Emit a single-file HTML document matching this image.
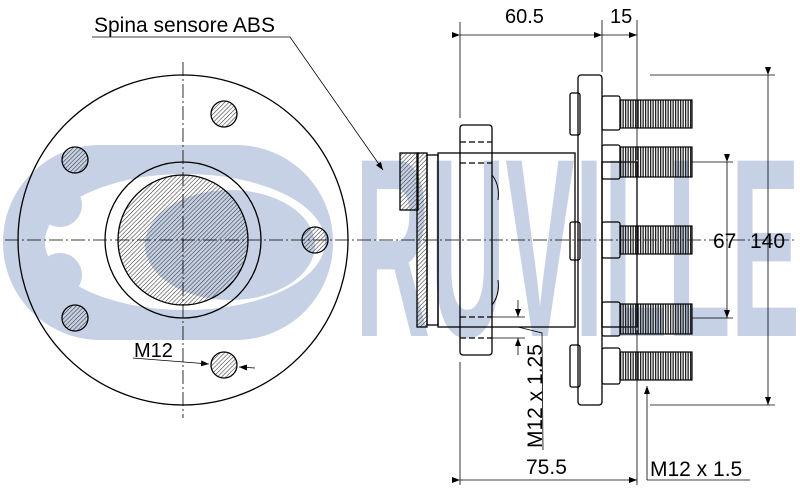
<!DOCTYPE html>
<html><head><meta charset="utf-8"><style>
html,body{margin:0;padding:0;background:#fff;}
svg{display:block;}
text{font-family:"Liberation Sans",sans-serif;}
</style></head><body>
<svg width="800" height="496" viewBox="0 0 800 496" xmlns="http://www.w3.org/2000/svg">
<defs>
<pattern id="h" width="3" height="3" patternUnits="userSpaceOnUse" patternTransform="rotate(45)">
<line x1="0" y1="0" x2="0" y2="3" stroke="#333" stroke-width="1.1"/>
</pattern>
<pattern id="t" width="2.5" height="4" patternUnits="userSpaceOnUse">
<line x1="0.6" y1="0" x2="0.6" y2="4" stroke="#222" stroke-width="1.4"/>
</pattern>
<marker id="a" markerWidth="8" markerHeight="6" refX="8" refY="3" orient="auto" markerUnits="userSpaceOnUse"><path d="M0,0 L8,3 L0,6 z" fill="#000"/></marker>
</defs>
<!-- watermark -->
<g fill="#c6d1e5">
<rect x="3" y="145" width="330" height="195" rx="97"/>
</g>
<ellipse cx="185" cy="242" rx="140" ry="68" fill="#fff"/>
<g fill="#c6d1e5">
<circle cx="100" cy="160" r="12"/>
<circle cx="60" cy="205" r="22"/><circle cx="60" cy="275" r="22"/>
<circle cx="100" cy="325" r="12"/>
<ellipse cx="230" cy="245" rx="85" ry="55"/>
</g>
<text x="355" y="336" font-size="255" font-weight="bold" fill="#c6d1e5" textLength="445" lengthAdjust="spacingAndGlyphs">RUVILLE</text>

<!-- left view -->
<g stroke="#000" fill="none" stroke-width="1.3">
<circle cx="183" cy="240" r="165"/>
<circle cx="183" cy="240" r="78"/>
<circle cx="183" cy="240" r="65" fill="url(#h)"/>
<g fill="url(#h)">
<circle cx="315" cy="240" r="13"/>
<circle cx="224" cy="114" r="13"/>
<circle cx="75" cy="160" r="13"/>
<circle cx="75" cy="318" r="13"/>
<circle cx="224" cy="365" r="13"/>
</g>
</g>
<g stroke="#000" stroke-width="0.8" stroke-dasharray="14,3,2,3">
<line x1="5" y1="240" x2="795" y2="240"/>
<line x1="183" y1="62" x2="183" y2="418"/>
</g>
<line x1="133" y1="358" x2="209" y2="364" stroke="#000" stroke-width="0.8" marker-end="url(#a)"/>
<line x1="255" y1="368" x2="239" y2="367" stroke="#000" stroke-width="0.8" marker-end="url(#a)"/>
<text x="134" y="357" font-size="20">M12</text>

<text x="94" y="32" font-size="21">Spina sensore ABS</text>
<polyline points="92,37 290,37 383,170" fill="none" stroke="#000" stroke-width="0.8" marker-end="url(#a)"/>

<!-- side view -->
<g stroke="#000" stroke-width="1.3" fill="none">
<rect x="400" y="153" width="18" height="57" fill="url(#h)"/>
<rect x="417" y="153" width="10" height="174" fill="url(#h)"/>
<rect x="427" y="155" width="11" height="170"/>
<rect x="438" y="153" width="137" height="174"/>
<rect x="460" y="125" width="32" height="230" rx="3"/>
<rect x="602" y="162" width="35" height="165"/>
<rect x="570" y="93" width="10" height="42" rx="2"/>
<rect x="570" y="222" width="10" height="38" rx="2"/>
<rect x="570" y="345" width="10" height="42" rx="2"/>
<rect x="578" y="75" width="24" height="330" rx="3"/>
</g>
<g stroke="#000" stroke-width="1.3" stroke-dasharray="6,3">
<line x1="460" y1="142" x2="492" y2="142"/><line x1="460" y1="163" x2="492" y2="163"/>
<line x1="460" y1="317" x2="492" y2="317"/><line x1="460" y1="338" x2="492" y2="338"/>
</g>
<path d="M492,175 Q500,185 498,200 M492,305 Q500,295 498,280" stroke="#000" fill="none" stroke-width="1"/>
<!-- studs -->
<g stroke="#000" stroke-width="1.2" fill="none">
<rect x="602" y="96" width="18" height="34" rx="2"/>
<rect x="620" y="100" width="72" height="28" fill="url(#t)"/>
<rect x="602" y="145" width="18" height="34" rx="2"/>
<rect x="620" y="147" width="72" height="30" fill="url(#t)"/>
<rect x="602" y="222" width="18" height="36" rx="2"/>
<rect x="620" y="226" width="72" height="28" fill="url(#t)"/>
<rect x="602" y="302" width="18" height="34" rx="2"/>
<rect x="620" y="304" width="72" height="30" fill="url(#t)"/>
<rect x="602" y="348" width="18" height="36" rx="2"/>
<rect x="620" y="352" width="72" height="28" fill="url(#t)"/>
</g>
<!-- dimensions -->
<g stroke="#000" stroke-width="0.8" fill="none">
<line x1="460" y1="22" x2="460" y2="118"/><line x1="460" y1="362" x2="460" y2="485"/>
<line x1="602" y1="20" x2="602" y2="72"/>
<line x1="637" y1="20" x2="637" y2="160"/><line x1="637" y1="330" x2="637" y2="485"/>
<line x1="460" y1="35" x2="602" y2="35" marker-start="url(#a)" marker-end="url(#a)"/>
<line x1="602" y1="35" x2="637" y2="35" marker-end="url(#a)"/>
<line x1="460" y1="480" x2="637" y2="480" marker-start="url(#a)" marker-end="url(#a)"/>
<line x1="650" y1="75" x2="775" y2="75"/><line x1="650" y1="405" x2="775" y2="405"/>
<line x1="768" y1="75" x2="768" y2="405" marker-start="url(#a)" marker-end="url(#a)"/>
<line x1="692" y1="162" x2="733" y2="162"/><line x1="692" y1="318" x2="733" y2="318"/>
<line x1="727" y1="162" x2="727" y2="318" marker-start="url(#a)" marker-end="url(#a)"/>
<line x1="647" y1="480" x2="647" y2="386" marker-end="url(#a)"/>
<line x1="647" y1="480" x2="750" y2="480"/>
<line x1="492" y1="317" x2="525" y2="317"/><line x1="492" y1="338" x2="525" y2="338"/>
<line x1="518" y1="300" x2="518" y2="317" marker-end="url(#a)"/>
<line x1="518" y1="355" x2="518" y2="338" marker-end="url(#a)"/>
<polyline points="518,327 542,333 543,450"/>
</g>
<text x="505" y="23" font-size="20">60.5</text>
<text x="610" y="23" font-size="20">15</text>
<text x="526" y="474" font-size="21">75.5</text>
<text x="713" y="248" font-size="21">67</text>
<text x="750" y="248" font-size="21">140</text>
<text x="650" y="476" font-size="21">M12 x 1.5</text>
<text transform="translate(542,448) rotate(-90)" font-size="21">M12 x 1.25</text>
</svg>
</body></html>
